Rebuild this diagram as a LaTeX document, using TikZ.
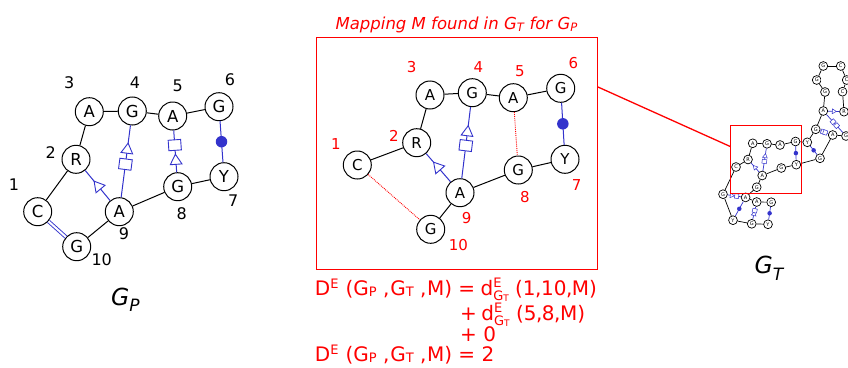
\documentclass[tikz,border=0pt]{standalone}
\usepackage{fontspec}
\setmainfont{DejaVu Sans}
\usetikzlibrary{shapes.geometric}
\definecolor{pairblue}{RGB}{51,51,204}
\definecolor{mred}{RGB}{255,0,0}
\newcommand\fsup[1]{\raisebox{7pt}{\fontsize{13}{13}\selectfont #1}}
\newcommand\fsub[1]{\raisebox{-1pt}{\fontsize{13}{13}\selectfont #1}}
\newcommand\fsupsub[2]{\rlap{\raisebox{8pt}{\fontsize{13}{13}\selectfont #1}}\raisebox{-5.5pt}{\fontsize{13}{13}\selectfont #2}}
\newcommand\tsub[1]{\raisebox{-1pt}{\fontsize{9}{9}\selectfont #1}}
\begin{document}
\begin{tikzpicture}[x=1pt,y=-1pt,
  nd/.style={circle,draw,line width=1pt,minimum size=28pt,inner sep=0pt,fill=white,font=\fontsize{16.5}{16.5}\selectfont},
  ndm/.style={nd,font=\fontsize{15}{15}\selectfont},
  lbl/.style={inner sep=0pt,font=\fontsize{16}{16}\selectfont},
  lblm/.style={inner sep=0pt,text=mred,font=\fontsize{15}{15}\selectfont},
  bb/.style={line width=1pt},
  bp/.style={draw=pairblue,line width=1pt},
  dbl/.style={draw=pairblue,line width=0.9pt,double=white,double distance=2pt},
  rdot/.style={draw=mred,line width=0.9pt,densely dotted},
  tri/.style={regular polygon,regular polygon sides=3,shape border rotate=-90,draw=pairblue,fill=white,line width=0.9pt,minimum size=13.5pt,inner sep=0pt,sloped,allow upside down},
  sq/.style={rectangle,draw=pairblue,fill=white,line width=0.9pt,minimum width=10.5pt,minimum height=12.5pt,inner sep=0pt,sloped,allow upside down},
  bdot/.style={circle,fill=pairblue,minimum size=11.5pt,inner sep=0pt},
  tn/.style={circle,draw,line width=0.7pt,minimum size=8.8pt,inner sep=0pt,fill=white,font=\fontsize{5}{5}\selectfont},
  tb/.style={line width=0.7pt},
  tbp/.style={draw=pairblue,line width=0.7pt},
  tdbl/.style={draw=pairblue,line width=0.5pt,double=white,double distance=1.2pt},
  ttri/.style={regular polygon,regular polygon sides=3,shape border rotate=-90,draw=pairblue,fill=white,line width=0.5pt,minimum size=5.5pt,inner sep=0pt,sloped,allow upside down},
  tsq/.style={rectangle,draw=pairblue,fill=white,line width=0.5pt,minimum width=4pt,minimum height=4.5pt,inner sep=0pt,sloped,allow upside down},
  tdot/.style={circle,fill=pairblue,minimum size=4.5pt,inner sep=0pt},
  eq/.style={anchor=base west,inner sep=0pt,text=mred,font=\fontsize{20}{20}\selectfont}
]
\useasboundingbox (0,0) rectangle (848,367);

% ---------------- G_P ----------------
\node[nd] (p1) at (37.7,211.7) {C};
\node[nd] (p2) at (76,159.3) {R};
\node[nd] (p3) at (89.3,111.7) {A};
\node[nd] (p4) at (132.3,111) {G};
\node[nd] (p5) at (172.7,116) {A};
\node[nd] (p6) at (219,106.7) {G};
\node[nd] (p7) at (224,176.7) {Y};
\node[nd] (p8) at (177.7,186.7) {G};
\node[nd] (p9) at (119.3,211.7) {A};
\node[nd] (p10) at (76.7,246.7) {G};
\draw[bb] (p3) -- (p4);
\draw[bb] (p4) -- (p5);
\draw[bb] (p5) -- (p6);
\draw[bb] (p3) -- (p2);
\draw[bb] (p2) -- (p1);
\draw[bb] (p10) -- (p9);
\draw[bb] (p9) -- (p8);
\draw[bb] (p8) -- (p7);
\draw[dbl] (p1) -- (p10);
\draw[bp] (p6) -- node[bdot,pos=0.5]{} (p7);
\draw[bp] (p9) -- node[tri,pos=0.66]{} node[sq,pos=0.46]{} (p4);
\draw[bp] (p8) -- node[tri,pos=0.27]{} node[sq,pos=0.65]{} (p5);
\draw[bp] (p9) -- node[tri,pos=0.47]{} (p2);
\node[lbl] (lp1) at (14,185) {1};
\node[lbl] (lp2) at (50.7,152.7) {2};
\node[lbl] (lp3) at (69.3,82.7) {3};
\node[lbl] (lp4) at (135,82.7) {4};
\node[lbl] (lp5) at (177.7,86) {5};
\node[lbl] (lp6) at (230,79.3) {6};
\node[lbl] (lp7) at (233.3,200.7) {7};
\node[lbl] (lp8) at (181.7,213.3) {8};
\node[lbl] (lp9) at (124,234) {9};
\node[lbl] (lp10) at (101.7,260) {10};
\node[anchor=base west,inner sep=0pt] (gp) at (111,305) {\fontsize{23.5}{23.5}\selectfont\itshape G\raisebox{-6.5pt}{\fontsize{17}{17}\selectfont P}};

% ---------------- mapping box ----------------
\node[anchor=base,inner sep=0pt,text=mred,font=\fontsize{16.5}{16.5}\selectfont\itshape] (title) at (456.7,29.3) {Mapping M found in G\textsubscript{T} for G\textsubscript{P}};
\draw[mred,line width=1pt] (316.7,37.3) rectangle (597.3,269.3);
\node[ndm] (m1) at (357.3,165) {C};
\node[ndm] (m2) at (416.7,142.7) {R};
\node[ndm] (m3) at (430,95) {A};
\node[ndm] (m4) at (472.3,92.7) {G};
\node[ndm] (m5) at (513.3,97.7) {A};
\node[ndm] (m6) at (560.7,88.3) {G};
\node[ndm] (m7) at (565,159.3) {Y};
\node[ndm] (m8) at (518.3,170) {G};
\node[ndm] (m9) at (460,192.7) {A};
\node[ndm] (m10) at (430.7,229.3) {G};
\draw[bb] (m3) -- (m4);
\draw[bb] (m4) -- (m5);
\draw[bb] (m5) -- (m6);
\draw[bb] (m3) -- (m2);
\draw[bb] (m2) -- (m1);
\draw[bb] (m10) -- (m9);
\draw[bb] (m9) -- (m8);
\draw[bb] (m8) -- (m7);
\draw[rdot] (m1) -- (m10);
\draw[rdot] (m5) -- (m8);
\draw[bp] (m6) -- node[bdot,pos=0.5]{} (m7);
\draw[bp] (m9) -- node[tri,pos=0.645]{} node[sq,pos=0.46]{} (m4);
\draw[bp] (m9) -- node[tri,pos=0.515]{} (m2);
\node[lblm] (lm1) at (336,144) {1};
\node[lblm] (lm2) at (394,136) {2};
\node[lblm] (lm3) at (411.7,66.7) {3};
\node[lblm] (lm4) at (478.3,66.7) {4};
\node[lblm] (lm5) at (520,70.7) {5};
\node[lblm] (lm6) at (573.3,63.3) {6};
\node[lblm] (lm7) at (576.7,185) {7};
\node[lblm] (lm8) at (525,197.3) {8};
\node[lblm] (lm9) at (466.7,218.3) {9};
\node[lblm] (lm10) at (458.3,245) {10};

% ---------------- formula ----------------
\node[eq] (f1) at (314.7,295) {D\fsup{E}\hspace{7pt}(G\fsub{P} ,\hspace{1pt}G\fsub{T} ,\hspace{0.5pt}M) = \hspace{-1pt}d\fsupsub{E}{G\tsub{T}} (1\kern-0.5pt,\kern-0.5pt10\kern-0.5pt,\kern-0.5ptM)};
\node[eq] (f2) at (460,320) {+\hspace{4.5pt}d\fsupsub{E}{G\tsub{T}} (5\kern-0.5pt,\kern-0.5pt8\kern-0.5pt,\kern-0.5ptM)};
\node[eq] (f3) at (460,341) {+ 0};
\node[eq] (f4) at (314.7,361.7) {D\fsup{E}\hspace{7pt}(G\fsub{P} ,\hspace{1pt}G\fsub{T} ,\hspace{0.5pt}M) = 2};

% ---------------- G_T ----------------
\node[tn] (t1) at (823.3,66) {G};
\node[tn] (t2) at (840.7,66) {C};
\node[tn] (t3) at (816.7,80) {G};
\node[tn] (t4) at (846.7,80) {C};
\node[tn] (t5) at (825,92) {G};
\node[tn] (t6) at (842.5,91.7) {C};
\node[tn] (t7) at (823.3,111) {A};
\node[tn] (t8) at (844,111.7) {R};
\node[tn] (t9) at (815.7,129.3) {G};
\node[tn] (t10) at (832.7,135) {A};
\node[tn] (t11) at (846,136) {G};
\node[tn] (t12) at (807.3,142.3) {Y};
\node[tn] (t13) at (820,158.3) {G};
\node[tn] (t14) at (795.5,141.5) {G};
\node[tn] (t15) at (780,145) {A};
\node[tn] (t16) at (767,143.8) {G};
\node[tn] (t17) at (752.7,143.3) {A};
\node[tn] (t18) at (748,159.5) {R};
\node[tn] (t19) at (736,167) {C};
\node[tn] (t20) at (796.3,164.7) {Y};
\node[tn] (t21) at (781.3,168) {G};
\node[tn] (t22) at (762.2,175.5) {A};
\node[tn] (t23) at (756.7,187.2) {G};
\node[tn] (t24) at (723,194.2) {G};
\node[tn] (t25) at (745.6,197.4) {A};
\node[tn] (t26) at (756.7,202) {A};
\node[tn] (t27) at (771.2,202.2) {G};
\node[tn] (t28) at (733,220.2) {Y};
\node[tn] (t29) at (751.7,223.8) {G};
\node[tn] (t30) at (768,224.3) {Y};
\draw[tb] (t1) -- (t2);
\draw[tb] (t1) -- (t3);
\draw[tb] (t2) -- (t4);
\draw[tb] (t4) -- (t6);
\draw[tb] (t3) -- (t5);
\draw[tb] (t6) -- (t8);
\draw[tb] (t5) -- (t7);
\draw[tb] (t7) -- (t9);
\draw[tb] (t9) -- (t12);
\draw[tb] (t12) -- (t14);
\draw[tb] (t14) -- (t15);
\draw[tb] (t15) -- (t16);
\draw[tb] (t16) -- (t17);
\draw[tb] (t17) -- (t18);
\draw[tb] (t18) -- (t19);
\draw[tb] (t19) -- (t24);
\draw[tb] (t24) -- (t28);
\draw[tb] (t28) -- (t29);
\draw[tb] (t29) -- (t30);
\draw[tb] (t26) -- (t27);
\draw[tb] (t25) -- (t26);
\draw[tb] (t23) -- (t25);
\draw[tb] (t22) -- (t23);
\draw[tb] (t21) -- (t22);
\draw[tb] (t20) -- (t21);
\draw[tb] (t20) -- (t13);
\draw[tb] (t13) -- (t10);
\draw[tb] (t10) -- (t11);
\draw[tdbl] (t3) -- (t4);
\draw[tbp] (t7) -- node[ttri,pos=0.5]{} (t8);
\draw[tbp] (t7) -- node[tsq,pos=0.4]{} node[tsq,pos=0.62]{} (t11);
\draw[tbp] (t9) -- node[tsq,pos=0.35]{} node[tsq,pos=0.62]{} (t10);
\draw[tbp] (t12) -- node[tdot,pos=0.5]{} (t13);
\draw[tbp] (t14) -- node[tdot,pos=0.5]{} (t20);
\draw[tbp] (t22) -- node[ttri,pos=0.65]{} node[tsq,pos=0.42]{} (t16);
\draw[tbp] (t22) -- node[ttri,pos=0.5]{} (t18);
\draw[tbp] (t24) -- node[ttri,pos=0.3]{} node[tsq,pos=0.68]{} (t25);
\draw[tbp] (t25) -- node[tdot,pos=0.5]{} (t28);
\draw[tbp] (t29) -- node[ttri,pos=0.4]{} node[tsq,pos=0.68]{} (t26);
\draw[tbp] (t27) -- node[tdot,pos=0.5]{} (t30);
\draw[mred,line width=1pt] (730.7,125.7) rectangle (801,193);
\node[anchor=base west,inner sep=0pt] (gt) at (754.5,273.3) {\fontsize{23.5}{23.5}\selectfont\itshape G\raisebox{-6.7pt}{\fontsize{17}{17}\selectfont T}};

% ---------------- link ----------------
\coordinate (zs) at (597.3,86.7);
\coordinate (ze) at (730.7,146.7);
\draw[mred,line width=1.3pt] (zs) -- (ze);
\end{tikzpicture}
\end{document}
